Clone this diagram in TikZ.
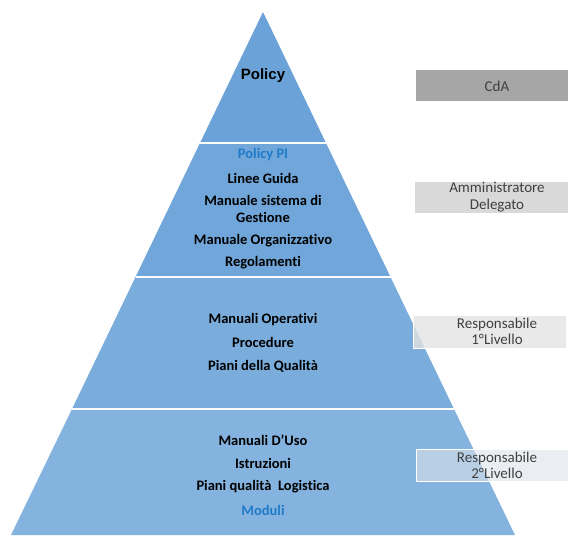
\documentclass[tikz,border=0pt]{standalone}
\usepackage{fontspec}
\setmainfont[Ligatures={NoCommon}]{Carlito}
\newfontfamily\arialfont{Liberation Sans}
\definecolor{bandA}{HTML}{6BA3D8}
\definecolor{bandB}{HTML}{70A6D9}
\definecolor{bandC}{HTML}{7AADDC}
\definecolor{bandD}{HTML}{84B3DF}
\definecolor{bluetxt}{HTML}{1F7BC8}
\definecolor{graytxt}{HTML}{404040}
\definecolor{cdagray}{HTML}{A6A6A6}
\definecolor{adgray}{HTML}{D9D9D9}
\definecolor{r1gray}{HTML}{E3E3E3}
\definecolor{r2gray}{HTML}{DCE3EA}
\tikzset{
  lvl/.style={font=\bfseries\fontsize{14.5}{17}\selectfont, text=black, align=center, inner sep=0pt},
  lvlblue/.style={lvl, text=bluetxt},
  rolebox/.style={minimum width=153pt, minimum height=32pt, inner sep=0pt},
  roletext/.style={inner sep=0pt, align=center, font=\fontsize{15}{16.5}\selectfont, text=graytxt}
}
\begin{document}
\begin{tikzpicture}[x=1pt,y=-1pt]
\useasboundingbox (0,0) rectangle (568,536);
% pyramid bands
\fill[bandA] (263,12) -- (326,143) -- (200,143) -- cycle;
\fill[bandB] (200,143) -- (326,143) -- (390.5,277) -- (135.5,277) -- cycle;
\fill[bandC] (135.5,277) -- (390.5,277) -- (454,409) -- (72,409) -- cycle;
\fill[bandD] (72,409) -- (454,409) -- (515,535) -- (11,535) -- cycle;
\draw[white, line width=1.8pt] (200,143) -- (326,143);
\draw[white, line width=1.8pt] (135.5,277) -- (390.5,277);
\draw[white, line width=1.8pt] (72,409) -- (454,409);
% texts in pyramid
\node[inner sep=0pt, font=\arialfont\bfseries\fontsize{15}{17}\selectfont] (policy) at (263,76) {Policy};
\node[lvlblue] (policypi) at (263,155) {Policy PI};
\node[lvl] (linee) at (263,178) {Linee Guida};
\node[lvl] (msg) at (263,208.5) {Manuale sistema di\\Gestione};
\node[lvl] (morg) at (263,241) {Manuale Organizzativo};
\node[lvl] (reg) at (263,263) {Regolamenti};
\node[lvl] (mop) at (263,320) {Manuali Operativi};
\node[lvl] (proc) at (263,342) {Procedure};
\node[lvl] (pq) at (263,366) {Piani della Qualità};
\node[lvl] (muso) at (263,440) {Manuali D\char"27 Uso};
\node[lvl] (istr) at (263,463) {Istruzioni};
\node[lvl] (pql) at (263,487) {Piani qualità\ \ Logistica};
\node[lvlblue] (mod) at (263,510) {Moduli};
% role boxes
\node[rolebox, fill=cdagray, anchor=north west, minimum height=31pt] (cda) at (416,70) {};
\node[roletext] (cdat) at (497,86) {CdA};
\node[rolebox, fill=adgray, anchor=north west, minimum height=31pt] (ad) at (415,182) {};
\node[roletext] (adt) at (497,197) {Amministratore\\Delegato};
\node[rolebox, fill=r1gray, fill opacity=0.8, draw=white, line width=1pt, anchor=north west, minimum height=33pt] (r1) at (413,315) {};
\node[roletext] (r1t) at (497,331.5) {Responsabile\\1°Livello};
\node[rolebox, fill=r2gray, fill opacity=0.6, draw=white, line width=1pt, anchor=north west, minimum height=32pt] (r2) at (416,449) {};
\node[roletext] (r2t) at (497,465.5) {Responsabile\\2°Livello};
\end{tikzpicture}
\end{document}
